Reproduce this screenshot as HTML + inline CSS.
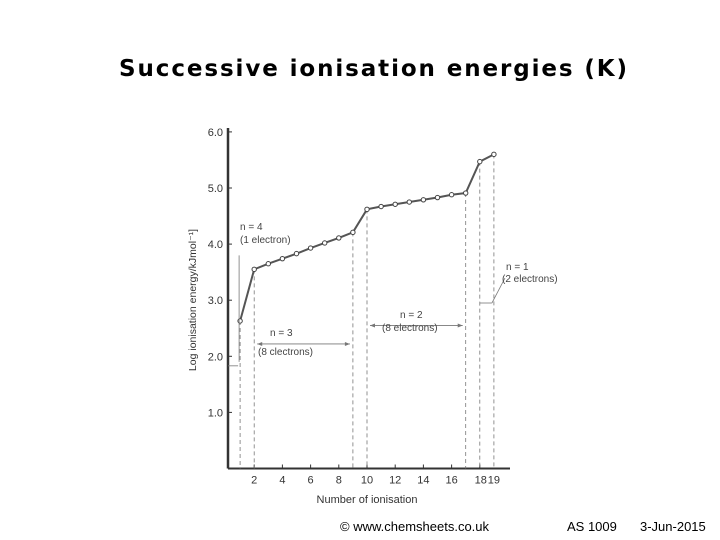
<!DOCTYPE html>
<html><head><meta charset="utf-8"><style>
body{margin:0;background:#fff;}
#wrap{position:relative;width:720px;height:540px;overflow:hidden;font-family:"Liberation Sans",sans-serif;}
#title{position:absolute;left:0;top:56px;width:748px;text-align:center;font-family:"DejaVu Sans",sans-serif;font-weight:bold;font-size:23px;letter-spacing:1.9px;color:#000;}
.foot{position:absolute;top:519px;font-size:13px;color:#000;}
</style></head><body>
<div id="wrap">
<div id="title">Successive ionisation energies (K)</div>
<svg id="chart" width="720" height="540" style="position:absolute;left:0;top:0"></svg>
<div class="foot" style="left:340px">© www.chemsheets.co.uk</div>
<div class="foot" style="left:567px">AS 1009</div>
<div class="foot" style="left:640px">3-Jun-2015</div>
</div>
<script>
const ionNumbers=[1,2,3,4,5,6,7,8,9,10,11,12,13,14,15,16,17,18,19];
const logEnergies=[2.63,3.55,3.65,3.74,3.83,3.93,4.02,4.11,4.21,4.62,4.67,4.71,4.75,4.79,4.83,4.88,4.91,5.47,5.60];
const xTicks=[2,4,6,8,10,12,14,16,18,19];
const xTickLabels=["2","4","6","8","10","12","14","16","18","19"];
const yTicks=[1,2,3,4,5,6];
const yTickLabels=["1.0","2.0","3.0","4.0","5.0","6.0"];
const dashedAt=[1,2,9,10,17,18,19];

const svg=document.getElementById('chart');
const NS='http://www.w3.org/2000/svg';
const X=v=>226+v*14.1;
const Y=v=>468.5-v*56.1;
function el(tag,attrs,txt){const e=document.createElementNS(NS,tag);for(const k in attrs)e.setAttribute(k,attrs[k]);if(txt!==undefined)e.textContent=txt;svg.appendChild(e);return e;}
let e;
e=el('line',{x1:X(0)+2,y1:128,x2:X(0)+2,y2:Y(0),stroke:'#333','stroke-width':2.5});

e=el('line',{x1:X(0)+2,y1:Y(0),x2:510,y2:Y(0),stroke:'#333','stroke-width':2});

yTicks.forEach((t,i)=>{
 el('line',{x1:X(0)+2,y1:Y(t),x2:X(0)+6,y2:Y(t),stroke:'#333','stroke-width':1});
 e=el('text',{x:X(0)-3,y:Y(t)+4,'text-anchor':'end','font-size':11,fill:'#333'},yTickLabels[i]);
 
});
xTicks.forEach((t,i)=>{
 if(t!==19) el('line',{x1:X(t),y1:Y(0),x2:X(t),y2:Y(0)-4,stroke:'#333','stroke-width':1});
 e=el('text',{x:X(t)+(t===18?1:t===19?0:0),y:Y(0)+15,'text-anchor':'middle','font-size':11,fill:'#333'},xTickLabels[i]);
 
});
e=el('text',{x:X(10),y:503,'text-anchor':'middle','font-size':11,fill:'#333'},'Number of ionisation');

e=el('text',{x:0,y:0,transform:'translate(196,300) rotate(-90)','text-anchor':'middle','font-size':10.5,fill:'#333'},'Log ionisation energy/kJmol⁻¹]');

dashedAt.forEach(n=>{
 const v=logEnergies[ionNumbers.indexOf(n)];
 e=el('line',{x1:X(n),y1:Y(v),x2:X(n),y2:Y(0),stroke:'#777','stroke-width':0.8,'stroke-dasharray':'4,3'});
 
});
e=el('polyline',{points:ionNumbers.map((n,i)=>X(n)+','+Y(logEnergies[i])).join(' '),fill:'none',stroke:'#555','stroke-width':2});

ionNumbers.forEach((n,i)=>{
 e=el('circle',{cx:X(n),cy:Y(logEnergies[i]),r:2.2,fill:'#fff',stroke:'#444','stroke-width':1});
 
});
function arrow(x1,x2,y){el('line',{x1:x1,y1:y,x2:x2,y2:y,stroke:'#777','stroke-width':0.8});
 el('path',{d:`M${x1} ${y}l5 -2v4z M${x2} ${y}l-5 -2v4z`,fill:'#777'});}
arrow(X(2)+3,X(9)-3,Y(2.22));
arrow(X(10)+3,X(17)-3,Y(2.55));
el('line',{x1:228,y1:Y(1.83),x2:X(1)-2,y2:Y(1.83),stroke:'#777','stroke-width':0.8});
el('line',{x1:X(1)-1,y1:Y(3.8),x2:X(1)-1,y2:Y(1.9),stroke:'#777','stroke-width':0.8});
el('line',{x1:X(18),y1:Y(2.95),x2:X(19)-2,y2:Y(2.95),stroke:'#777','stroke-width':0.8});
el('line',{x1:X(19)-2,y1:Y(2.95),x2:505,y2:278,stroke:'#777','stroke-width':0.8});
const notes=[[240,230,'n = 4'],[240,243,'(1 electron)'],[270,336,'n = 3'],[258,355,'(8 clectrons)'],
[400,318,'n = 2'],[382,331,'(8 electrons)'],[506,270,'n = 1'],[502,282,'(2 electrons)']];
notes.forEach(a=>{e=el('text',{x:a[0],y:a[1],'font-size':10,fill:'#444'},a[2]);
 });
</script>
</body></html>
